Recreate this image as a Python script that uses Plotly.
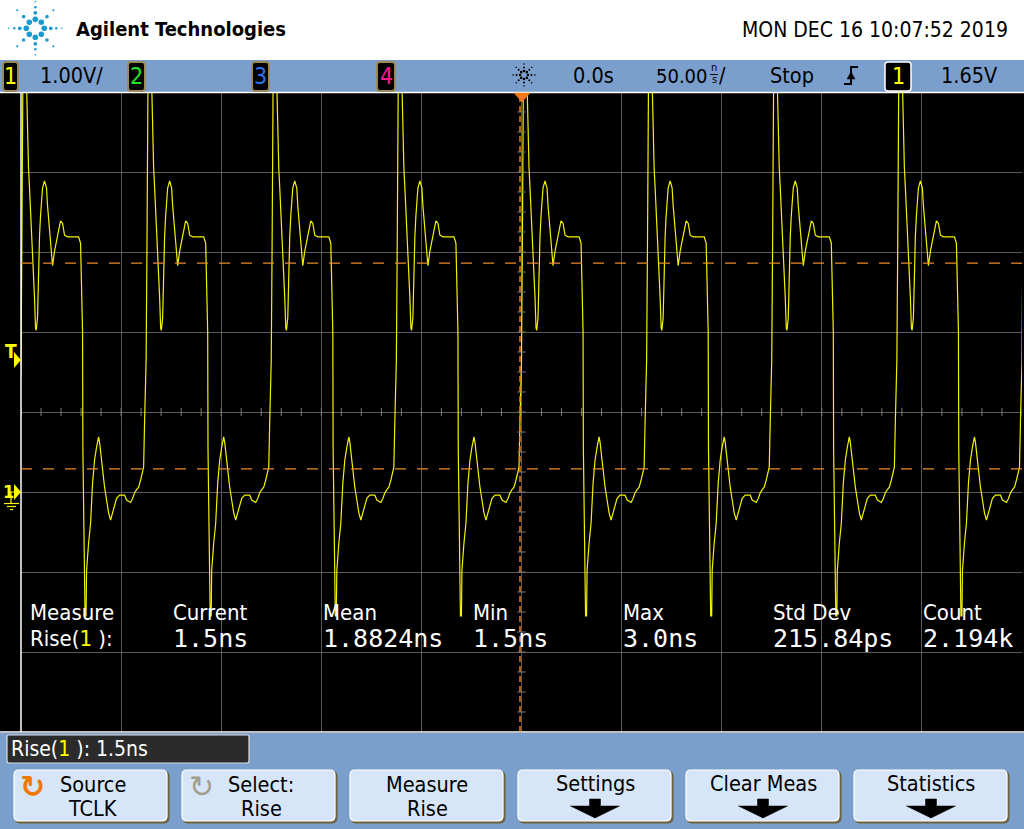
import math
import plotly.graph_objects as go

W, H = 1024, 829

ns_per_div = 50.0
v_per_div = 1.00
time_range_ns = [-250.0, 250.0]
volt_range = [-3.0, 5.0]
trigger_level_v = 1.65
upper_threshold_v = 2.86
lower_threshold_v = 0.29

# rising-edge instants of the clock (ns), trigger at 0
edge_times_ns = [-312.5, -250.0, -187.5, -125.0, -62.5, 0.0, 62.5, 125.0, 187.5, 250.0]

# one period of the TCLK waveform, relative to its rising edge (ns, V)
cycle_t_ns = [0, 0.4, 0.75, 1.0, 2.5, 3.0, 3.25, 3.75, 4.25, 4.75, 5.25, 6.05, 6.75, 7.25, 7.6,
              8.25, 8.75, 9.25, 9.75, 10.25, 10.75, 11.75, 12.75, 13.25, 13.75, 14.25, 14.75,
              15.25, 15.75, 16.75, 17.75, 18.75, 19.75, 20.75, 21.75, 23.25, 28.75, 29.75, 30.25,
              30.75, 30.9, 31.6, 32.0, 32.5, 32.75, 33.75, 34.75, 35.75, 36.75, 37.75, 38.75,
              39.25, 39.75, 40.25, 40.75, 41.75, 42.75, 43.75, 44.75, 45.75, 46.75, 47.75, 49.25,
              51.75, 52.75, 54.75, 55.75, 56.75, 57.75, 58.75, 59.75, 60.75, 61.25, 61.75]
cycle_v = [1.65, 3.0, 5.0, 5.4, 5.4, 4.8, 4.36, 4.05, 3.8, 3.55, 3.2, 2.8, 2.43, 2.05, 2.02,
           2.18, 2.8, 3.2, 3.45, 3.68, 3.8, 3.89, 3.8, 3.58, 3.43, 3.2, 3.05, 2.89, 2.83, 3.01,
           3.14, 3.3, 3.39, 3.36, 3.21, 3.19, 3.19, 3.11, 2.68, 2.0, 0.55, -0.6, -1.55, -1.55,
           -0.98, -0.64, -0.39, 0.11, 0.4, 0.56, 0.69, 0.62, 0.49, 0.36, 0.28, 0.06, -0.1,
           -0.26, -0.35, -0.26, -0.14, -0.08, -0.04, -0.04, -0.1, -0.13, -0.08, -0.01, 0.03,
           0.06, 0.15, 0.24, 0.31, 0.9]

meas_headers = ["Measure", "Current", "Mean", "Min", "Max", "Std Dev", "Count"]
meas_values = ["Rise(<span style='color:#FFFF00'>1</span> ):", "1.5ns", "1.8824ns", "1.5ns",
               "3.0ns", "215.84ps", "2.194k"]
softkey_top = ["Source", "Select:", "Measure", "Settings", "Clear Meas", "Statistics"]
softkey_bottom = ["TCLK", "Rise", "Rise", "", "", ""]
date_text = "MON DEC 16 10:07:52 2019"
brand_text = "Agilent Technologies"
status_text = "Rise(<span style='color:#FFFF00'>1</span> ): 1.5ns"

# ---------------- build trace ----------------
t_all, v_all = [], []
for e in edge_times_ns:
    for dt, v in zip(cycle_t_ns, cycle_v):
        t_all.append(e + dt)
        v_all.append(v)

NARROW = "DejaVu Sans Condensed, Liberation Sans, Arial, sans-serif"
MONO = "DejaVu Sans Mono, Liberation Mono, monospace"
BLUE = "#7B9FCD"
BTN = "#D6E5F7"
OLIVE = "#6E6138"
GRID = "#595959"


def X(px):
    return px / W


def Y(py):
    return 1 - py / H


shapes = []
annotations = []


def rect(x0, y0, x1, y1, fill, lc=None, lw=0, layer="above"):
    shapes.append(dict(type="rect", xref="paper", yref="paper", x0=X(x0), x1=X(x1),
                       y0=Y(y1), y1=Y(y0), fillcolor=fill,
                       line=dict(width=lw, color=lc or fill), layer=layer))


def seg(x0, y0, x1, y1, color, width=1, dash=None, layer="above"):
    ln = dict(color=color, width=width)
    if dash:
        ln["dash"] = dash
    shapes.append(dict(type="line", xref="paper", yref="paper", x0=X(x0), x1=X(x1),
                       y0=Y(y0), y1=Y(y1), line=ln, layer=layer))


def poly(pts, fill, lc=None, lw=0, closed=True):
    d = "M " + " L ".join(f"{X(a):.5f},{Y(b):.5f}" for a, b in pts)
    if closed:
        d += " Z"
    shapes.append(dict(type="path", xref="paper", yref="paper", path=d,
                       fillcolor=fill, line=dict(color=lc or fill, width=lw), layer="above"))


def rrect(x0, y0, x1, y1, r, fill, lc, lw):
    p = lambda a, b: f"{X(a):.5f},{Y(b):.5f}"
    d = (f"M {p(x0 + r, y0)} L {p(x1 - r, y0)} Q {p(x1, y0)} {p(x1, y0 + r)} "
         f"L {p(x1, y1 - r)} Q {p(x1, y1)} {p(x1 - r, y1)} L {p(x0 + r, y1)} "
         f"Q {p(x0, y1)} {p(x0, y1 - r)} L {p(x0, y0 + r)} Q {p(x0, y0)} {p(x0 + r, y0)} Z")
    shapes.append(dict(type="path", xref="paper", yref="paper", path=d, fillcolor=fill,
                       line=dict(color=lc, width=lw), layer="above"))


def dot(cx, cy, r, color):
    shapes.append(dict(type="circle", xref="paper", yref="paper", x0=X(cx - r), x1=X(cx + r),
                       y0=Y(cy + r), y1=Y(cy - r), fillcolor=color,
                       line=dict(width=0, color=color), layer="above"))


def ann(text, x, y, size, color="black", family=NARROW, xanchor="left", yanchor="middle"):
    annotations.append(dict(text=text, x=X(x), y=Y(y), xref="paper", yref="paper",
                            showarrow=False, font=dict(size=size, color=color, family=family),
                            xanchor=xanchor, yanchor=yanchor, borderpad=0))


# backgrounds
rect(0, 92, 1024, 733, "#000000", layer="below")
rect(0, 60, 1024, 92, BLUE, layer="below")
rect(0, 733, 1024, 829, BLUE, layer="below")
seg(0, 92.5, 1024, 92.5, "#FFFFFF", 1.5)
seg(0, 732, 1024, 732, "#FFFFFF", 1.5)
seg(21, 92, 21, 732, "#FFFFFF", 1.5)

# header: logo + brand + date
cx0, cy0 = 35.3, 28.3
for k in range(8):
    ang = k * math.pi / 4
    if k % 2 == 0:
        radii, sizes = [9, 15.5, 21, 26.5], [2.8, 1.9, 1.3, 0.8]
    else:
        radii, sizes = [8.5, 16.5, 25.5], [2.8, 1.8, 1.1]
    for r, s in zip(radii, sizes):
        dot(cx0 + r * math.cos(ang), cy0 - r * math.sin(ang), s, "#1A9BD0")
ann(f"<b>{brand_text}</b>", 75, 29, 20, "#000000")
ann(date_text, 741, 30, 21, "#000000")

# top blue bar: channel boxes
for (bx0, bx1, lab, col) in [(3, 18, "1", "#FFFF00"), (128, 145, "2", "#22E022"),
                             (252, 269, "3", "#2F6FF0"), (377, 395, "4", "#FF1A8C")]:
    rrect(bx0, 62, bx1, 91, 3, "#000000", "#9A8A5A", 2)
    ann(lab, (bx0 + bx1) / 2, 76, 23, col, xanchor="center")
rrect(885, 62, 911, 91, 3, "#000000", "#FFFFFF", 1.5)
ann("1", 898, 76, 23, "#FFFF00", xanchor="center")
ann("1.00V/", 39, 76, 21.5)
ann("0.0s", 572, 76, 21.5)
ann("50.00", 655, 76, 20)
ann("n", 714, 68, 11, xanchor="center")
ann("s", 714, 80, 11, xanchor="center")
seg(710, 74.5, 718, 74.5, "#000000", 1)
ann("/", 718, 76, 21.5)
ann("Stop", 769, 76, 21.5)
ann("1.65V", 940, 76, 21.5)
# trigger edge icon
poly([(844, 84), (851, 84), (851, 67), (858, 67)], "rgba(0,0,0,0)", "#000000", 2, closed=False)
poly([(847, 79), (855, 79), (851, 72)], "#000000", "#000000", 0.5)
# acquisition starburst icon
for k in range(8):
    ang = k * math.pi / 4
    for r, s in zip([4, 7.5, 11], [1.3, 1.0, 0.8]):
        dot(524 + r * math.cos(ang), 75 - r * math.sin(ang), s, "#000000")

# trigger position marker (orange)
seg(520, 96, 520, 732, "#F07A10", 1.5, dash="6px,4px")
poly([(514, 93), (530, 93), (522, 102)], "#F07A10", "#F07A10", 0.5)

# left markers: trigger level T and channel 1 ground
ann("<b>T</b>", 4, 351, 19, "#FFFF00")
shapes.append(dict(type="path", xref="paper", yref="y",
                   path=f"M {X(14):.5f},{trigger_level_v + 0.1} L {X(21):.5f},{trigger_level_v} "
                        f"L {X(14):.5f},{trigger_level_v - 0.1} Z",
                   fillcolor="#FFFF00", line=dict(width=0), layer="above"))
ann("<b>1</b>", 2, 491, 18, "#FFFF00")
shapes.append(dict(type="path", xref="paper", yref="y",
                   path=f"M {X(14):.5f},{0.1} L {X(21):.5f},0 L {X(14):.5f},{-0.1} Z",
                   fillcolor="#FFFF00", line=dict(width=0), layer="above"))
poly([(11, 500), (11, 492), (14, 492)], "rgba(0,0,0,0)", "#FFFF00", 1.2, closed=False)
seg(11, 500, 11, 503, "#FFFF00", 1.2)
seg(4, 503.5, 19, 503.5, "#FFFF00", 1.2)
seg(7, 506.5, 16, 506.5, "#FFFF00", 1.2)
seg(10, 509.5, 13, 509.5, "#FFFF00", 1.2)

# threshold dashed lines (data coordinates)
for lvl in [upper_threshold_v, lower_threshold_v]:
    shapes.append(dict(type="line", xref="x", yref="y", x0=time_range_ns[0], x1=time_range_ns[1],
                       y0=lvl, y1=lvl, line=dict(color="#E88A2A", width=1.3, dash="11px,11px"),
                       layer="above"))

# measurements
col_x = [30, 173, 323, 473, 623, 773, 923]
for cx, hdr, val in zip(col_x, meas_headers, meas_values):
    ann(hdr, cx - 1, 612, 22, "#FFFFFF")
    if cx == 30:
        ann(val, cx - 1, 638, 22, "#FFFFFF")
    else:
        ann(val, cx - 1, 638, 25, "#FFFFFF", family=MONO)

# status box
rrect(7, 735, 249, 763, 2, "#2B2B2B", "#DDDDDD", 1.2)
ann(status_text, 10, 749, 21, "#FFFFFF")

# softkeys
for i, (t1, t2) in enumerate(zip(softkey_top, softkey_bottom)):
    bx0 = 14 + 168 * i
    bx1 = bx0 + 154
    rrect(bx0 + 1, 771, bx1 + 1, 823, 5, OLIVE, OLIVE, 1)
    rrect(bx0, 770, bx1 - 1, 821, 5, BTN, "#FFFFFF", 1.2)
    cxb = (bx0 + bx1) / 2
    if t2:
        ann(t1, cxb + (2 if i < 2 else 0), 784, 21.5, xanchor="center")
        ann(t2, cxb + (2 if i < 2 else 0), 808, 21.5, xanchor="center")
    else:
        ann(t1, cxb, 783, 21.5, xanchor="center")
        poly([(cxb - 5.5, 799), (cxb + 5.5, 799), (cxb + 5.5, 806), (cxb + 24.5, 806),
              (cxb, 818), (cxb - 24.5, 806), (cxb - 5.5, 806)], "#000000", "#000000", 0.5)
ann("<b>↻</b>", 32, 786, 30, "#F07800", family="DejaVu Sans", xanchor="center")
ann("↻", 201, 786, 30, "#A09F8C", family="DejaVu Sans", xanchor="center")

# ---------------- figure ----------------
fig = go.Figure()
fig.add_trace(go.Scatter(x=t_all, y=v_all, mode="lines",
                         line=dict(color="#F2F200", width=1.2), hoverinfo="skip",
                         showlegend=False))
# minor ticks on centre graticule lines
fig.add_trace(go.Scatter(x=[k * ns_per_div / 5 for k in range(-25, 26)], y=[1.0] * 51,
                         mode="markers", marker=dict(symbol="line-ns", size=6,
                                                     line=dict(width=1, color="#7A7A7A")),
                         hoverinfo="skip", showlegend=False))
fig.add_trace(go.Scatter(x=[0.0] * 33, y=[-3 + k * v_per_div / 4 for k in range(33)],
                         mode="markers", marker=dict(symbol="line-ew", size=6,
                                                     line=dict(width=1, color="#7A7A7A")),
                         hoverinfo="skip", showlegend=False))

fig.update_layout(
    width=W, height=H, margin=dict(l=0, r=0, t=0, b=0),
    paper_bgcolor="#FFFFFF", plot_bgcolor="#000000",
    xaxis=dict(domain=[21 / W, 1022 / W], range=time_range_ns, showgrid=True, gridcolor=GRID,
               gridwidth=1, dtick=ns_per_div, tick0=0, showticklabels=False, zeroline=False,
               showline=False, ticks="", fixedrange=True),
    yaxis=dict(domain=[1 - 732 / H, 1 - 92 / H], range=volt_range, showgrid=True, gridcolor=GRID,
               gridwidth=1, dtick=v_per_div, tick0=0, showticklabels=False, zeroline=False,
               showline=False, ticks="", fixedrange=True),
    shapes=shapes, annotations=annotations, showlegend=False,
)

fig.write_html("out.html", config={"displayModeBar": False},
               post_script="document.body.style.margin='0px';document.body.style.overflow='hidden';")
